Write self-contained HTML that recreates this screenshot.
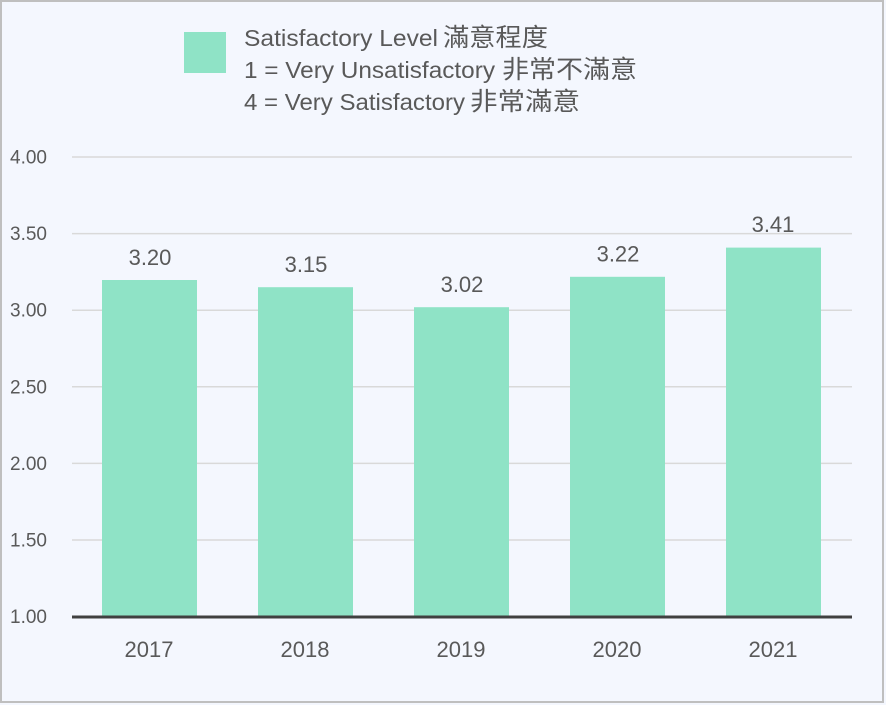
<!DOCTYPE html>
<html><head><meta charset="utf-8"><style>
html,body{margin:0;padding:0;background:#f4f7fe;}
svg{display:block;}
text{font-family:"Liberation Sans","Noto Sans CJK TC",sans-serif;fill:#595959;}
</style></head><body>
<svg width="886" height="705" viewBox="0 0 886 705" xmlns="http://www.w3.org/2000/svg">
<rect x="0" y="0" width="886" height="705" fill="#f4f7fe"/>
<rect x="1" y="1" width="882" height="701" fill="none" stroke="#bfbfbf" stroke-width="2"/>
<g stroke="#d9d9d9" stroke-width="1.5">
<line x1="72" x2="852" y1="157" y2="157"/>
<line x1="72" x2="852" y1="233.6" y2="233.6"/>
<line x1="72" x2="852" y1="310.2" y2="310.2"/>
<line x1="72" x2="852" y1="386.8" y2="386.8"/>
<line x1="72" x2="852" y1="463.4" y2="463.4"/>
<line x1="72" x2="852" y1="540" y2="540"/>
</g>
<g fill="#8fe3c6">
<rect x="102" y="280" width="95" height="337"/>
<rect x="258" y="287.2" width="95" height="329.8"/>
<rect x="414" y="307.2" width="95" height="309.8"/>
<rect x="570" y="276.8" width="95" height="340.2"/>
<rect x="726" y="247.6" width="95" height="369.4"/>
</g>
<line x1="72" x2="852" y1="617" y2="617" stroke="#404040" stroke-width="3"/>
<g font-size="19" text-anchor="end">
<text x="47" y="163.5">4.00</text>
<text x="47" y="240.1">3.50</text>
<text x="47" y="316.7">3.00</text>
<text x="47" y="393.3">2.50</text>
<text x="47" y="469.9">2.00</text>
<text x="47" y="546.5">1.50</text>
<text x="47" y="623.1">1.00</text>
</g>
<g font-size="22" text-anchor="middle">
<text x="150" y="265">3.20</text>
<text x="306" y="272">3.15</text>
<text x="462" y="292">3.02</text>
<text x="618" y="261.5">3.22</text>
<text x="773" y="232">3.41</text>
</g>
<g font-size="22" text-anchor="middle">
<text x="149" y="657">2017</text>
<text x="305" y="657">2018</text>
<text x="461" y="657">2019</text>
<text x="617" y="657">2020</text>
<text x="773" y="657">2021</text>
</g>
<rect x="184" y="32" width="42" height="41" fill="#8fe3c6"/>
<g font-size="23">
<text x="244" y="46" textLength="194" lengthAdjust="spacingAndGlyphs">Satisfactory Level</text>
<text x="443" y="46" font-size="25" textLength="105" lengthAdjust="spacingAndGlyphs">滿意程度</text>
<text x="244" y="78" textLength="251" lengthAdjust="spacingAndGlyphs">1 = Very Unsatisfactory</text>
<text x="502" y="78" font-size="25" textLength="135" lengthAdjust="spacingAndGlyphs">非常不滿意</text>
<text x="244" y="110" textLength="221" lengthAdjust="spacingAndGlyphs">4 = Very Satisfactory</text>
<text x="470" y="110" font-size="25" textLength="110" lengthAdjust="spacingAndGlyphs">非常滿意</text>
</g>
</svg>
</body></html>
